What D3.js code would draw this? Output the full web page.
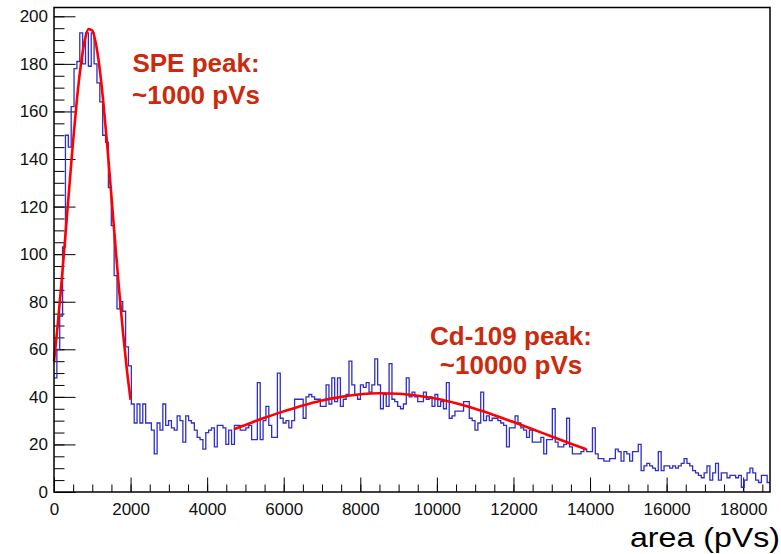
<!DOCTYPE html>
<html>
<head>
<meta charset="utf-8">
<script src="https://cdn.jsdelivr.net/npm/d3@7"></script>
<style>
  body { margin: 0; background: #fff; }
  text { font-family: "Liberation Sans", Arial, Helvetica, sans-serif; }
</style>
</head>
<body>
<div id="chart-area"></div>
<script>
/*
*    area histogram with two gaussian fits
*/
// bin contents, 250 bins of 74.8 pVs from 0
var counts = [
  48, 60, 74, 103, 150, 145, 162, 178, 181, 193,
  180, 193, 179, 193, 180, 172, 164, 150, 147, 128,
  112, 91, 77, 80, 76, 61, 53, 37, 29, 37,
  29, 37, 29, 29, 26, 16, 29, 26, 37, 28,
  30, 27, 26, 32, 30, 21, 32, 30, 29, 26,
  23, 22, 18, 25, 26, 27, 19, 28, 28, 27,
  20, 26, 20, 28, 28, 26, 26, 27, 28, 22,
  22, 46, 22, 30, 36, 28, 23, 23, 50, 31,
  29, 30, 27, 30, 39, 39, 39, 31, 40, 41,
  40, 39, 39, 36, 36, 45, 37, 48, 38, 48,
  36, 39, 41, 55, 45, 41, 39, 45, 44, 46,
  42, 45, 56, 45, 35, 41, 36, 54, 39, 38,
  36, 35, 37, 48, 40, 42, 40, 38, 38, 42,
  39, 40, 36, 41, 36, 38, 35, 46, 31, 32,
  34, 34, 34, 38, 38, 31, 30, 26, 29, 42,
  30, 32, 30, 31, 31, 30, 29, 28, 19, 27,
  27, 32, 29, 27, 26, 23, 26, 21, 21, 21,
  23, 16, 22, 22, 35, 21, 19, 19, 20, 31,
  19, 16, 16, 16, 17, 18, 17, 17, 27, 16,
  14, 14, 13, 13, 14, 14, 18, 17, 13, 17,
  16, 13, 17, 17, 20, 9, 11, 12, 11, 10,
  9, 17, 9, 11, 11, 10, 11, 10, 11, 12,
  14, 12, 11, 9, 8, 7, 6, 8, 11, 5,
  8, 12, 5, 8, 8, 6, 7, 7, 6, 7,
  2, 5, 8, 10, 8, 5, 4, 7, 7, 4
];
var binWidth = 74.8;

// fit curves
var speFitX = [0, 100, 200, 300, 400, 500, 600, 700, 800, 900, 1000,
  1100, 1200, 1300, 1400, 1500, 1600, 1700, 1800, 1900, 2000];
var speFitY = [54.8, 70.8, 88.8, 108.3, 128.3, 147.7, 165.2, 179.5, 189.6, 194.6, 194,
  188, 177, 161.9, 143.9, 124.3, 104.3, 85.1, 67.4, 51.9, 38.8];
var cdFitX = [4700, 5000, 5500, 6000, 6500, 7000, 7500, 8000, 8500, 9000,
  9500, 10000, 10500, 11000, 11500, 12000, 12500, 13000, 13500, 13900];
var cdFitY = [26.4, 28.2, 31.2, 33.9, 36.4, 38.5, 40.0, 41.1, 41.5, 41.3,
  40.5, 39.2, 37.3, 35.0, 32.3, 29.4, 26.4, 23.3, 20.3, 18.0];

var xTickValues = [0, 2000, 4000, 6000, 8000, 10000, 12000, 14000, 16000, 18000];
var yTickValues = [0, 20, 40, 60, 80, 100, 120, 140, 160, 180, 200];

var margin = {top: 7.5, right: 11, bottom: 62, left: 54};
var width = 781 - margin.left - margin.right,
    height = 554 - margin.top - margin.bottom;

var svg = d3.select("#chart-area")
  .append("svg")
    .attr("width", 781)
    .attr("height", 554);
var g = svg.append("g")
    .attr("transform", "translate(" + margin.left + ", " + margin.top + ")");

var x = d3.scaleLinear().domain([0, counts.length * binWidth]).range([0, width]);
var y = d3.scaleLinear().domain([0, 203.7]).range([height, 0]);

// minor ticks
g.append("g")
  .attr("transform", "translate(0, " + height + ")")
  .call(d3.axisBottom(x).tickValues(d3.range(0, 18701, 500)).tickSize(-7.5).tickFormat(""))
  .call(a => a.select(".domain").remove());
g.append("g")
  .call(d3.axisLeft(y).tickValues(d3.range(0, 204, 5)).tickSize(-10.5).tickFormat(""))
  .call(a => a.select(".domain").remove());

// major ticks + labels
var xAxisGroup = g.append("g")
  .attr("transform", "translate(0, " + height + ")")
  .call(d3.axisBottom(x).tickValues(xTickValues).tickSize(-14.5).tickPadding(11).tickFormat(d3.format("d")));
xAxisGroup.select(".domain").remove();
xAxisGroup.selectAll("text").attr("font-size", "17px").attr("fill", "#111");

var yAxisGroup = g.append("g")
  .call(d3.axisLeft(y).tickValues(yTickValues).tickSize(-21.5).tickPadding(6));
yAxisGroup.select(".domain").remove();
yAxisGroup.selectAll("text").attr("font-size", "17px").attr("fill", "#111");

g.selectAll(".tick line").attr("stroke", "#000");

// histogram outline
var histPts = counts.map((d, i) => [i * binWidth, d]);
histPts.push([counts.length * binWidth, counts[counts.length - 1]]);
var stepLine = d3.line()
  .x(d => x(d[0]))
  .y(d => y(d[1]))
  .curve(d3.curveStepAfter);
g.append("path")
  .datum(histPts)
  .attr("fill", "none")
  .attr("stroke", "#2e2ec8")
  .attr("stroke-width", 1.3)
  .attr("d", stepLine);

// fits
var fitLine = d3.line()
  .x(d => x(d[0]))
  .y(d => y(d[1]))
  .curve(d3.curveMonotoneX);
g.append("path")
  .datum(speFitX.map((d, i) => [d, speFitY[i]]))
  .attr("fill", "none")
  .attr("stroke", "#ff0000")
  .attr("stroke-width", 2.6)
  .attr("d", fitLine);
g.append("path")
  .datum(cdFitX.map((d, i) => [d, cdFitY[i]]))
  .attr("fill", "none")
  .attr("stroke", "#ff0000")
  .attr("stroke-width", 2.6)
  .attr("d", fitLine);

// frame
g.append("rect")
  .attr("x", 0).attr("y", 0)
  .attr("width", width).attr("height", height)
  .attr("fill", "none")
  .attr("stroke", "#000")
  .attr("stroke-width", 1.5);

// annotations
var notes = [
  {x: 196, y: 72, t: "SPE peak:"},
  {x: 196, y: 103.5, t: "~1000 pVs"},
  {x: 511, y: 345, t: "Cd-109 peak:"},
  {x: 511, y: 373.5, t: "~10000 pVs"}
];
svg.selectAll("text.note").data(notes).enter().append("text")
  .attr("class", "note")
  .attr("x", d => d.x)
  .attr("y", d => d.y)
  .attr("text-anchor", "middle")
  .attr("font-size", "26px")
  .attr("font-weight", "bold")
  .style("fill", "#cc2a0c")
  .text(d => d.t);

// X Label
svg.append("text")
  .attr("x", 780)
  .attr("y", 547)
  .attr("text-anchor", "end")
  .attr("font-size", "28px")
  .attr("textLength", 150)
  .attr("lengthAdjust", "spacingAndGlyphs")
  .style("fill", "#000")
  .text("area (pVs)");
</script>
</body>
</html>
